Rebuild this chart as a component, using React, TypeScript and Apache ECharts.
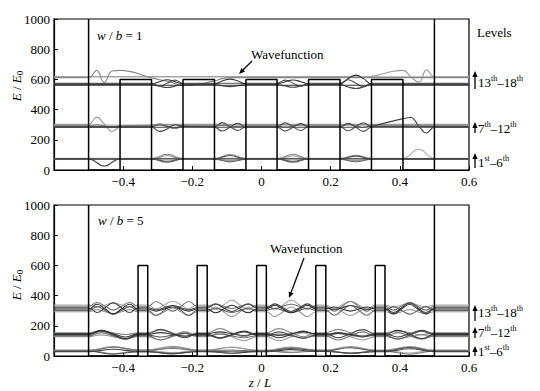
import React, { useEffect, useRef } from "react";
import * as echarts from "echarts";

const FONT = "Liberation Serif, Times New Roman, DejaVu Serif, serif";

// Potential profile
const V_BARRIER = 600;
const V_WALL = 1000;
const barriersTop = [[-0.409, -0.318], [-0.227, -0.136], [-0.045, 0.045], [0.136, 0.227], [0.318, 0.409]];
const barriersBottom = [[-0.357, -0.329], [-0.186, -0.157], [-0.014, 0.014], [0.157, 0.186], [0.329, 0.357]];

// ---------- Top panel (w/b = 1) ----------
const zTop1 = [-0.6, -0.5, -0.455, -0.409, -0.318, -0.273, -0.227, -0.136, -0.091, -0.045, 0.045, 0.091, 0.136, 0.227, 0.273, 0.318, 0.409, 0.455, 0.5, 0.6];
const t1a = [74, 74, 26, 74, 74, 74, 74, 74, 74, 74, 74, 74, 74, 74, 74, 74, 74, 74, 74, 74];
const t1b = [76, 76, 76, 76, 76, 104, 76, 76, 103, 76, 76, 104, 76, 76, 98, 76, 76, 76, 76, 76];
const t1c = [72, 72, 72, 72, 72, 52, 72, 72, 54, 72, 72, 52, 72, 72, 55, 72, 72, 72, 72, 72];
const t1d = [78, 78, 78, 78, 78, 78, 78, 78, 78, 78, 78, 78, 78, 78, 78, 78, 78, 137, 78, 78];
const t1e = [70, 70, 70, 70, 70, 96, 70, 70, 62, 70, 70, 94, 70, 70, 62, 70, 70, 70, 70, 70];
const t1f = [74, 74, 74, 74, 74, 58, 74, 74, 96, 74, 74, 58, 74, 74, 92, 74, 74, 74, 74, 74];

const zTop2 = [-0.6, -0.5, -0.477, -0.455, -0.432, -0.409, -0.318, -0.295, -0.273, -0.25, -0.227, -0.136, -0.114, -0.091, -0.068, -0.045, 0.045, 0.068, 0.091, 0.114, 0.136, 0.227, 0.25, 0.273, 0.295, 0.318, 0.409, 0.432, 0.455, 0.477, 0.5, 0.6];
const t2a = [302, 302, 350, 305, 255, 285, 300, 302, 302, 302, 302, 302, 302, 302, 302, 302, 302, 302, 302, 302, 302, 302, 302, 302, 302, 302, 302, 302, 302, 302, 302, 302];
const t2b = [283, 283, 283, 283, 283, 283, 283, 256, 272, 300, 290, 283, 258, 283, 310, 283, 283, 258, 283, 308, 283, 283, 310, 283, 256, 283, 283, 283, 283, 283, 283, 283];
const t2c = [287, 287, 287, 287, 287, 287, 287, 300, 287, 276, 287, 287, 314, 287, 262, 287, 287, 312, 287, 262, 287, 287, 260, 287, 312, 287, 287, 287, 287, 287, 287, 287];
const t2d = [283, 283, 283, 283, 283, 283, 283, 283, 283, 283, 283, 283, 283, 283, 283, 283, 283, 283, 283, 283, 283, 283, 283, 283, 283, 290, 340, 348, 290, 245, 283, 283];
const t2e = [292, 292, 300, 292, 284, 292, 292, 305, 292, 280, 292, 292, 296, 292, 288, 292, 292, 285, 292, 299, 292, 292, 302, 292, 282, 292, 292, 292, 292, 292, 292, 292];
const t2f = [297, 297, 297, 297, 297, 297, 297, 297, 297, 297, 297, 297, 297, 297, 297, 297, 297, 297, 297, 297, 297, 297, 297, 297, 297, 297, 297, 297, 297, 297, 297, 297];

const t3a = [612, 612, 660, 580, 655, 660, 610, 598, 588, 572, 558, 590, 605, 612, 612, 612, 612, 612, 612, 612, 612, 612, 612, 612, 612, 612, 612, 612, 612, 612, 612, 612];
const t3b = [618, 618, 618, 618, 618, 618, 618, 618, 618, 618, 618, 618, 618, 618, 618, 618, 618, 618, 618, 618, 618, 618, 618, 616, 616, 620, 660, 615, 582, 664, 618, 618];
const t3c = [618, 618, 618, 618, 618, 618, 618, 618, 618, 618, 618, 618, 618, 618, 618, 618, 618, 618, 618, 618, 618, 618, 618, 618, 618, 618, 618, 618, 618, 618, 618, 618];
const t3d = [570, 570, 570, 570, 570, 570, 570, 585, 598, 585, 570, 570, 590, 602, 590, 570, 570, 585, 596, 585, 570, 570, 605, 628, 605, 570, 570, 570, 570, 570, 570, 570];
const t3e = [566, 566, 566, 566, 566, 566, 566, 555, 546, 555, 566, 566, 558, 552, 558, 566, 566, 556, 548, 556, 566, 566, 550, 540, 550, 566, 566, 566, 566, 566, 566, 566];
const t3f = [575, 575, 575, 575, 575, 575, 575, 555, 575, 595, 575, 575, 575, 575, 575, 575, 575, 595, 575, 555, 575, 575, 598, 575, 552, 575, 575, 575, 575, 575, 575, 575];
const t3g = [561, 561, 561, 561, 561, 561, 561, 561, 561, 561, 561, 561, 561, 561, 561, 561, 561, 561, 561, 561, 561, 561, 561, 561, 561, 561, 561, 561, 561, 561, 561, 561];

// ---------- Bottom panel (w/b = 5) ----------
const zBot1 = [-0.6, -0.5, -0.429, -0.357, -0.329, -0.257, -0.186, -0.157, -0.086, -0.014, 0.014, 0.086, 0.157, 0.186, 0.257, 0.329, 0.357, 0.429, 0.5, 0.6];
const b1a = [38, 38, 62, 40, 40, 64, 40, 40, 60, 39, 39, 60, 40, 40, 62, 40, 40, 62, 38, 38];
const b1b = [34, 34, 58, 40, 40, 50, 36, 36, 40, 33, 33, 25, 31, 31, 18, 30, 30, 12, 34, 34];
const b1c = [31, 31, 12, 27, 27, 18, 30, 30, 31, 32, 32, 50, 35, 35, 55, 34, 34, 56, 31, 31];
const b1d = [29, 29, 45, 30, 30, 14, 28, 28, 18, 29, 29, 42, 30, 30, 20, 28, 28, 48, 29, 29];
const b1e = [36, 36, 15, 33, 33, 56, 38, 38, 18, 33, 33, 56, 38, 38, 17, 33, 33, 58, 36, 36];
const b1f = [40, 40, 60, 36, 36, 22, 38, 38, 56, 36, 36, 22, 38, 38, 58, 36, 36, 20, 40, 40];

const zBot2 = [-0.6, -0.5, -0.464, -0.429, -0.393, -0.357, -0.329, -0.293, -0.257, -0.221, -0.186, -0.157, -0.121, -0.086, -0.05, -0.014, 0.014, 0.05, 0.086, 0.121, 0.157, 0.186, 0.221, 0.257, 0.293, 0.329, 0.357, 0.393, 0.429, 0.464, 0.5, 0.6];
const b2a = [154, 154, 166, 154, 142, 154, 154, 176, 154, 132, 154, 154, 181, 154, 127, 154, 154, 181, 154, 127, 154, 154, 176, 154, 132, 154, 154, 166, 154, 142, 154, 154];
const b2b = [148, 148, 170, 148, 126, 148, 148, 175, 148, 121, 148, 148, 160, 148, 136, 148, 148, 136, 148, 160, 148, 148, 121, 148, 175, 148, 148, 126, 148, 170, 148, 148];
const b2c = [143, 143, 170, 143, 116, 143, 143, 155, 143, 131, 143, 143, 121, 143, 165, 143, 143, 121, 143, 165, 143, 143, 155, 143, 131, 143, 143, 170, 143, 116, 143, 143];
const b2d = [138, 138, 165, 138, 111, 138, 138, 126, 138, 150, 138, 138, 116, 138, 160, 138, 138, 160, 138, 116, 138, 138, 150, 138, 126, 138, 138, 111, 138, 165, 138, 138];
const b2e = [133, 133, 155, 133, 111, 133, 133, 106, 133, 160, 133, 133, 145, 133, 121, 133, 133, 145, 133, 121, 133, 133, 106, 133, 160, 133, 133, 155, 133, 111, 133, 133];
const b2f = [128, 128, 140, 128, 116, 128, 128, 106, 128, 150, 128, 128, 155, 128, 101, 128, 128, 101, 128, 155, 128, 128, 150, 128, 106, 128, 128, 116, 128, 140, 128, 128];

const zBot3 = [-0.6, -0.5, -0.476, -0.452, -0.429, -0.405, -0.381, -0.357, -0.329, -0.305, -0.281, -0.257, -0.233, -0.21, -0.186, -0.157, -0.133, -0.11, -0.086, -0.062, -0.038, -0.014, 0.014, 0.038, 0.062, 0.086, 0.11, 0.133, 0.157, 0.186, 0.21, 0.233, 0.257, 0.281, 0.305, 0.329, 0.357, 0.381, 0.405, 0.429, 0.452, 0.476, 0.5, 0.6];
const b3a = [338, 338, 324, 338, 352, 338, 324, 338, 338, 313, 338, 363, 338, 313, 338, 338, 306, 338, 370, 338, 306, 338, 338, 306, 338, 370, 338, 306, 338, 338, 313, 338, 363, 338, 313, 338, 338, 324, 338, 352, 338, 324, 338, 338];
const b3b = [329, 329, 354, 329, 304, 329, 354, 329, 329, 361, 329, 297, 329, 361, 329, 329, 343, 329, 315, 329, 343, 329, 329, 315, 329, 343, 329, 315, 329, 329, 297, 329, 361, 329, 297, 329, 329, 304, 329, 354, 329, 304, 329, 329];
const b3c = [320, 320, 288, 320, 352, 320, 288, 320, 320, 306, 320, 334, 320, 306, 320, 320, 345, 320, 295, 320, 345, 320, 320, 345, 320, 295, 320, 345, 320, 320, 306, 320, 334, 320, 306, 320, 320, 288, 320, 352, 320, 288, 320, 320];
const b3d = [311, 311, 343, 311, 279, 311, 343, 311, 311, 297, 311, 325, 311, 297, 311, 311, 286, 311, 336, 311, 286, 311, 311, 336, 311, 286, 311, 336, 311, 311, 325, 311, 297, 311, 325, 311, 311, 279, 311, 343, 311, 279, 311, 311];
const b3e = [302, 302, 327, 302, 277, 302, 327, 302, 302, 270, 302, 334, 302, 270, 302, 302, 316, 302, 288, 302, 316, 302, 302, 316, 302, 288, 302, 316, 302, 302, 270, 302, 334, 302, 270, 302, 302, 327, 302, 277, 302, 327, 302, 302];
const b3f = [293, 293, 307, 293, 279, 293, 307, 293, 293, 268, 293, 318, 293, 268, 293, 293, 325, 293, 261, 293, 325, 293, 293, 261, 293, 325, 293, 261, 293, 293, 318, 293, 268, 293, 318, 293, 293, 279, 293, 307, 293, 279, 293, 293];

const topCurves: [number[], number[], string][] = [
  [zTop1, t1e, "#999"], [zTop1, t1d, "#aaa"], [zTop1, t1b, "#888"], [zTop1, t1c, "#666"], [zTop1, t1f, "#555"], [zTop1, t1a, "#444"],
  [zTop2, t2f, "#aaa"], [zTop2, t2a, "#999"], [zTop2, t2e, "#777"], [zTop2, t2c, "#555"], [zTop2, t2b, "#444"], [zTop2, t2d, "#444"],
  [zTop2, t3c, "#aaa"], [zTop2, t3b, "#999"], [zTop2, t3a, "#888"], [zTop2, t3f, "#555"], [zTop2, t3e, "#444"], [zTop2, t3g, "#333"], [zTop2, t3d, "#333"],
];
const bottomCurves: [number[], number[], string][] = [
  [zBot1, b1f, "#aaa"], [zBot1, b1a, "#999"], [zBot1, b1e, "#888"], [zBot1, b1b, "#777"], [zBot1, b1c, "#555"], [zBot1, b1d, "#444"],
  [zBot2, b2f, "#999"], [zBot2, b2a, "#888"], [zBot2, b2e, "#777"], [zBot2, b2d, "#555"], [zBot2, b2b, "#444"], [zBot2, b2c, "#333"],
  [zBot3, b3a, "#aaa"], [zBot3, b3f, "#999"], [zBot3, b3b, "#777"], [zBot3, b3e, "#666"], [zBot3, b3c, "#444"], [zBot3, b3d, "#333"],
];

function potential(barriers: number[][]) {
  const pts: number[][] = [[-0.5, V_WALL], [-0.5, 0]];
  barriers.forEach(([l, r]) => {
    pts.push([l, 0], [l, V_BARRIER], [r, V_BARRIER], [r, 0]);
  });
  pts.push([0.5, 0], [0.5, V_WALL]);
  return pts;
}

const rich: any = {
  n: { fontFamily: FONT, fontSize: 13, lineHeight: 16, fill: "#000" },
  i: { fontFamily: FONT, fontSize: 13, lineHeight: 16, fontStyle: "italic", fill: "#000" },
  sup: { fontFamily: FONT, fontSize: 8, lineHeight: 8, verticalAlign: "top", fill: "#000" },
  sub: { fontFamily: FONT, fontSize: 9, lineHeight: 9, verticalAlign: "bottom", fill: "#000" },
};

function txt(x: number, y: number, text: string, extra: any = {}) {
  return {
    type: "text", x, y, silent: true, ...extra,
    style: { text, rich, fontFamily: FONT, fontSize: 13, fill: "#000", align: "left", verticalAlign: "middle", ...(extra.style || {}) },
  };
}

function arrowEls(x1: number, y1: number, x2: number, y2: number, head = 6, hw = 2.6) {
  const dx = x2 - x1, dy = y2 - y1;
  const L = Math.hypot(dx, dy);
  const ux = dx / L, uy = dy / L;
  const bx = x2 - ux * head, by = y2 - uy * head;
  return [
    { type: "line", silent: true, shape: { x1, y1, x2: bx, y2: by }, style: { stroke: "#000", lineWidth: 1.3 } },
    { type: "polygon", silent: true, shape: { points: [[x2, y2], [bx - uy * hw, by + ux * hw], [bx + uy * hw, by - ux * hw]] }, style: { fill: "#000" } },
  ];
}

function xFmt(v: number) {
  if (Math.abs(v + 0.6) < 1e-6) return "";
  const r = Math.round(v * 10) / 10;
  if (r === 0) return "0";
  return (r < 0 ? "\u2212" : "") + Math.abs(r).toFixed(1);
}

export default function App() {
  const ref = useRef<HTMLDivElement>(null);
  useEffect(() => {
    if (!ref.current) return;
    const chart = echarts.init(ref.current, null, { renderer: "svg" });
    const axisLabel = { color: "#000", fontFamily: FONT, fontSize: 13 };
    const xAxis = [0, 1].map((g) => ({
      type: "value", gridIndex: g, min: -0.6, max: 0.6, interval: 0.2,
      axisLine: { show: true, lineStyle: { color: "#000", width: 1.2 } },
      axisTick: { show: true, inside: true, length: 4, lineStyle: { color: "#000" } },
      axisLabel: { ...axisLabel, margin: 5, formatter: xFmt },
      splitLine: { show: false },
    }));
    const yAxis = [0, 1].map((g) => ({
      type: "value", gridIndex: g, min: 0, max: 1000, interval: 200,
      axisLine: { show: true, onZero: false, lineStyle: { color: "#000", width: 1.2 } },
      axisTick: { show: true, inside: true, length: 4, lineStyle: { color: "#000" } },
      axisLabel: { ...axisLabel, margin: 4, formatter: (v: number) => String(Math.round(v)) },
      splitLine: { show: false },
    }));
    const mk = (z: number[], v: number[], color: string, g: number) => ({
      type: "line", xAxisIndex: g, yAxisIndex: g, silent: true,
      data: z.map((x, i) => [x, v[i]]), smooth: 0.45, showSymbol: false,
      lineStyle: { color, width: 1.1 },
    });
    const series: any[] = [
      ...topCurves.map(([z, v, c]) => mk(z, v, c, 0)),
      ...bottomCurves.map(([z, v, c]) => mk(z, v, c, 1)),
      { type: "line", xAxisIndex: 0, yAxisIndex: 0, silent: true, data: potential(barriersTop), showSymbol: false, lineStyle: { color: "#000", width: 1.5 } },
      { type: "line", xAxisIndex: 1, yAxisIndex: 1, silent: true, data: potential(barriersBottom), showSymbol: false, lineStyle: { color: "#000", width: 1.5 } },
    ];
    const graphic: any[] = [
      txt(97, 35, "{i|w}{n| / }{i|b}{n| = 1}"),
      txt(98, 220, "{i|w}{n| / }{i|b}{n| = 5}"),
      txt(251, 54, "{n|Wavefunction}"),
      ...arrowEls(252, 61, 239, 74),
      txt(270, 248, "{n|Wavefunction}"),
      ...arrowEls(304, 258, 289, 298),
      txt(477, 32, "{n|Levels}"),
      txt(478, 82, "{n|13}{sup|th}{n|\u201318}{sup|th}"),
      txt(478, 128, "{n|7}{sup|th}{n|\u201312}{sup|th}"),
      txt(478, 162, "{n|1}{sup|st}{n|\u20136}{sup|th}"),
      ...arrowEls(475, 89, 475, 71),
      ...arrowEls(475, 133, 475, 122),
      ...arrowEls(475, 168, 475, 153),
      txt(478, 312, "{n|13}{sup|th}{n|\u201318}{sup|th}"),
      txt(478, 332, "{n|7}{sup|th}{n|\u201312}{sup|th}"),
      txt(478, 351, "{n|1}{sup|st}{n|\u20136}{sup|th}"),
      ...arrowEls(475, 321, 475, 305),
      ...arrowEls(475, 338, 475, 327),
      ...arrowEls(475, 356, 475, 346),
      txt(16, 86, "{i|E}{n| / }{i|E}{sub|0}", { rotation: Math.PI / 2, style: { align: "center" } }),
      txt(16, 285, "{i|E}{n| / }{i|E}{sub|0}", { rotation: Math.PI / 2, style: { align: "center" } }),
      txt(260, 382, "{i|z}{n| / }{i|L}", { style: { align: "center" } }),
    ];
    chart.setOption({
      animation: false,
      backgroundColor: "#fff",
      textStyle: { fontFamily: FONT },
      grid: [
        { left: 54, top: 19, width: 415, height: 151, show: true, borderColor: "#000", borderWidth: 1.2 },
        { left: 54, top: 205, width: 415, height: 151, show: true, borderColor: "#000", borderWidth: 1.2 },
      ],
      xAxis, yAxis, series, graphic,
    });
    return () => chart.dispose();
  }, []);
  return <div ref={ref} style={{ position: "fixed", left: 0, top: 0, width: 540, height: 391, fontFamily: "Liberation Serif, serif" }} />;
}
